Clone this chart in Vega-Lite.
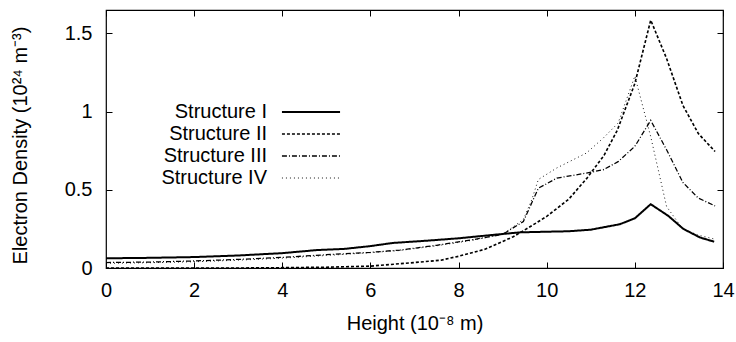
{
  "$schema": "https://vega.github.io/schema/vega-lite/v6.json",
  "autosize": {"type": "none"},
  "width": 617,
  "height": 258,
  "padding": {"left": 106, "top": 10, "right": 13, "bottom": 74},
  "background": "white",
  "config": {
    "font": "Liberation Sans",
    "view": {"stroke": "black", "strokeWidth": 1.2},
    "axis": {
      "grid": false,
      "domain": false,
      "tickColor": "black",
      "tickSize": -6,
      "tickWidth": 1,
      "labelFont": "Liberation Sans",
      "labelFontSize": 20,
      "labelColor": "black",
      "titleFont": "Liberation Sans",
      "titleFontSize": 20,
      "titleFontWeight": "normal",
      "titleColor": "black"
    },
    "legend": {
      "labelFont": "Liberation Sans",
      "labelFontSize": 20,
      "labelColor": "black"
    }
  },
  "data": {
    "values": [
      {"s": "Structure I", "x": 0, "y": 0.062},
      {"s": "Structure I", "x": 1, "y": 0.065},
      {"s": "Structure I", "x": 2, "y": 0.07},
      {"s": "Structure I", "x": 3, "y": 0.08},
      {"s": "Structure I", "x": 4, "y": 0.095},
      {"s": "Structure I", "x": 4.4, "y": 0.105},
      {"s": "Structure I", "x": 4.8, "y": 0.115},
      {"s": "Structure I", "x": 5.4, "y": 0.122},
      {"s": "Structure I", "x": 6.0, "y": 0.14},
      {"s": "Structure I", "x": 6.5, "y": 0.16},
      {"s": "Structure I", "x": 7.3, "y": 0.175},
      {"s": "Structure I", "x": 8.0, "y": 0.19},
      {"s": "Structure I", "x": 8.9, "y": 0.215},
      {"s": "Structure I", "x": 9.4, "y": 0.228},
      {"s": "Structure I", "x": 10.0, "y": 0.232},
      {"s": "Structure I", "x": 10.5, "y": 0.235},
      {"s": "Structure I", "x": 11.0, "y": 0.245},
      {"s": "Structure I", "x": 11.66, "y": 0.28},
      {"s": "Structure I", "x": 12.0, "y": 0.318},
      {"s": "Structure I", "x": 12.36, "y": 0.408},
      {"s": "Structure I", "x": 12.76, "y": 0.333},
      {"s": "Structure I", "x": 13.1, "y": 0.25},
      {"s": "Structure I", "x": 13.48, "y": 0.195},
      {"s": "Structure I", "x": 13.8, "y": 0.168},

      {"s": "Structure II", "x": 0, "y": 0.0},
      {"s": "Structure II", "x": 1, "y": 0.0},
      {"s": "Structure II", "x": 2, "y": 0.0},
      {"s": "Structure II", "x": 3, "y": 0.0},
      {"s": "Structure II", "x": 4, "y": 0.002},
      {"s": "Structure II", "x": 5, "y": 0.005},
      {"s": "Structure II", "x": 6, "y": 0.012},
      {"s": "Structure II", "x": 7, "y": 0.035},
      {"s": "Structure II", "x": 7.6, "y": 0.05},
      {"s": "Structure II", "x": 8.0, "y": 0.075},
      {"s": "Structure II", "x": 8.6, "y": 0.12},
      {"s": "Structure II", "x": 9.24, "y": 0.2},
      {"s": "Structure II", "x": 9.6, "y": 0.26},
      {"s": "Structure II", "x": 10.0, "y": 0.33},
      {"s": "Structure II", "x": 10.5, "y": 0.44},
      {"s": "Structure II", "x": 10.9, "y": 0.57},
      {"s": "Structure II", "x": 11.3, "y": 0.72},
      {"s": "Structure II", "x": 11.6, "y": 0.88},
      {"s": "Structure II", "x": 12.0, "y": 1.18},
      {"s": "Structure II", "x": 12.36, "y": 1.585},
      {"s": "Structure II", "x": 12.72, "y": 1.34},
      {"s": "Structure II", "x": 13.09, "y": 1.04},
      {"s": "Structure II", "x": 13.44, "y": 0.86},
      {"s": "Structure II", "x": 13.82, "y": 0.745},

      {"s": "Structure III", "x": 0, "y": 0.035},
      {"s": "Structure III", "x": 1, "y": 0.038},
      {"s": "Structure III", "x": 2, "y": 0.045},
      {"s": "Structure III", "x": 3, "y": 0.055},
      {"s": "Structure III", "x": 4, "y": 0.068},
      {"s": "Structure III", "x": 5, "y": 0.085},
      {"s": "Structure III", "x": 6, "y": 0.1},
      {"s": "Structure III", "x": 6.67, "y": 0.115},
      {"s": "Structure III", "x": 7.5, "y": 0.145},
      {"s": "Structure III", "x": 8.26, "y": 0.178},
      {"s": "Structure III", "x": 9.0, "y": 0.215},
      {"s": "Structure III", "x": 9.47, "y": 0.297},
      {"s": "Structure III", "x": 9.81, "y": 0.51},
      {"s": "Structure III", "x": 10.23, "y": 0.575},
      {"s": "Structure III", "x": 10.9, "y": 0.607},
      {"s": "Structure III", "x": 11.28, "y": 0.628},
      {"s": "Structure III", "x": 11.62, "y": 0.68},
      {"s": "Structure III", "x": 12.0, "y": 0.778},
      {"s": "Structure III", "x": 12.36, "y": 0.944},
      {"s": "Structure III", "x": 12.72, "y": 0.756},
      {"s": "Structure III", "x": 13.09, "y": 0.547},
      {"s": "Structure III", "x": 13.44, "y": 0.447},
      {"s": "Structure III", "x": 13.82, "y": 0.397},

      {"s": "Structure IV", "x": 0, "y": 0.03},
      {"s": "Structure IV", "x": 1, "y": 0.034},
      {"s": "Structure IV", "x": 2, "y": 0.04},
      {"s": "Structure IV", "x": 3, "y": 0.05},
      {"s": "Structure IV", "x": 4, "y": 0.063},
      {"s": "Structure IV", "x": 5, "y": 0.08},
      {"s": "Structure IV", "x": 6, "y": 0.098},
      {"s": "Structure IV", "x": 6.67, "y": 0.112},
      {"s": "Structure IV", "x": 7.5, "y": 0.142},
      {"s": "Structure IV", "x": 8.26, "y": 0.175},
      {"s": "Structure IV", "x": 9.0, "y": 0.215},
      {"s": "Structure IV", "x": 9.47, "y": 0.31},
      {"s": "Structure IV", "x": 9.66, "y": 0.436},
      {"s": "Structure IV", "x": 9.81, "y": 0.566},
      {"s": "Structure IV", "x": 10.23, "y": 0.64},
      {"s": "Structure IV", "x": 10.9, "y": 0.735},
      {"s": "Structure IV", "x": 11.28, "y": 0.83},
      {"s": "Structure IV", "x": 11.62, "y": 0.927},
      {"s": "Structure IV", "x": 12.0, "y": 1.227},
      {"s": "Structure IV", "x": 12.36, "y": 0.84},
      {"s": "Structure IV", "x": 12.72, "y": 0.393},
      {"s": "Structure IV", "x": 13.09, "y": 0.248},
      {"s": "Structure IV", "x": 13.44, "y": 0.21},
      {"s": "Structure IV", "x": 13.82, "y": 0.184}
    ]
  },
  "layer": [
    {
      "mark": {"type": "line", "color": "black", "clip": true},
      "encoding": {
        "x": {
          "field": "x", "type": "quantitative",
          "scale": {"domain": [0, 14], "nice": false, "zero": false},
          "axis": {"orient": "bottom", "values": [0, 2, 4, 6, 8, 10, 12, 14], "labelPadding": 18, "title": "Height (10⁻⁸ m)", "titlePadding": 13, "labelFlush": false}
        },
        "y": {
          "field": "y", "type": "quantitative",
          "scale": {"domain": [0, 1.65], "nice": false, "zero": false},
          "axis": {"orient": "left", "values": [0, 0.5, 1, 1.5], "format": "~g", "labelPadding": 20, "title": "Electron Density (10²⁴ m⁻³)", "titlePadding": 34, "titleY": 135, "labelFlush": false}
        },
        "strokeDash": {
          "field": "s", "type": "nominal",
          "scale": {"domain": ["Structure I", "Structure II", "Structure III", "Structure IV"], "range": [[1, 0], [3, 2], [5, 2, 1, 2], [1, 3]]},
          "legend": {
            "orient": "none", "legendX": 195, "legendY": 92, "title": null,
            "symbolType": "M-5,0H5", "symbolSize": 135, "symbolStrokeColor": "black",
            "symbolFillColor": "transparent", "symbolStrokeWidth": 1.2,
            "rowPadding": 2, "padding": 0, "symbolOffset": 0,
            "labelAlign": "right", "labelOffset": -54
          }
        },
        "strokeWidth": {
          "field": "s", "type": "nominal",
          "scale": {"domain": ["Structure I", "Structure II", "Structure III", "Structure IV"], "range": [2, 0.9, 0.9, 0.9]}
        }
      }
    },
    {
      "mark": {"type": "point", "opacity": 0},
      "encoding": {
        "x": {
          "field": "x", "type": "quantitative",
          "axis": {"orient": "top", "values": [0, 2, 4, 6, 8, 10, 12, 14], "labels": false, "title": null}
        },
        "y": {
          "field": "y", "type": "quantitative",
          "axis": {"orient": "right", "values": [0, 0.5, 1, 1.5], "labels": false, "title": null}
        }
      }
    }
  ],
  "resolve": {"axis": {"x": "independent", "y": "independent"}}
}
